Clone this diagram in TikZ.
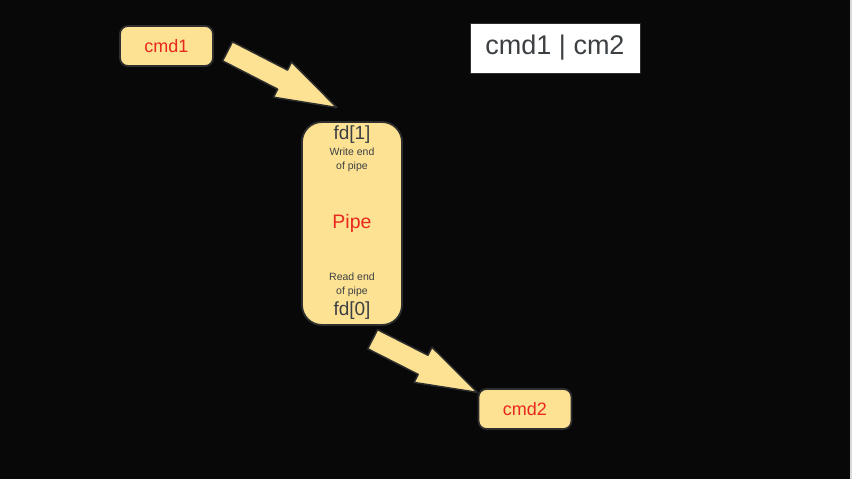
\documentclass[tikz,border=0pt]{standalone}
\usepackage{fontspec}
\setmainfont{Liberation Sans}
\usetikzlibrary{positioning,calc,shapes.arrows}
\definecolor{bgblack}{HTML}{080808}
\definecolor{boxyellow}{HTML}{FDE293}
\definecolor{boxedge}{HTML}{2E2E2E}
\definecolor{cmdred}{HTML}{E8281E}
\definecolor{darktext}{HTML}{3C4043}
\definecolor{rimgray}{HTML}{D9D9D9}
\newcommand{\blockarrow}[2]{%
  \path let \p1=($(#2)-(#1)$), \n1={atan2(\y1,\x1)}, \n2={veclen(\x1,\y1)} in
    node[bigarrow, minimum height=\n2, rotate=\n1, anchor=tail] at (#1) {};}
\begin{document}
\begin{tikzpicture}[x=1pt,y=-1pt,line join=round,line cap=round]
	\tikzset{
		cmdbox/.style={draw=boxedge,fill=boxyellow,line width=1.8pt,rounded corners=8pt,
			minimum width=93pt,minimum height=40pt,inner sep=0pt,text=cmdred,
			font=\fontsize{18}{20}\selectfont},
		pipebox/.style={draw=boxedge,fill=boxyellow,line width=1.8pt,rounded corners=20pt,
			minimum width=100pt,minimum height=203pt,inner sep=0pt},
		fdtext/.style={text=darktext,inner sep=0pt,font=\fontsize{19}{21}\selectfont},
		endtext/.style={text=darktext,inner sep=0pt,align=center,font=\fontsize{10.5}{14}\selectfont},
		pipetext/.style={text=cmdred,inner sep=0pt,font=\fontsize{19.5}{21}\selectfont},
		cmdline/.style={fill=white,draw=boxedge,line width=1pt,minimum width=170pt,minimum height=50pt,
			inner sep=0pt,text=darktext,font=\fontsize{27}{29}\selectfont},
		bigarrow/.style={single arrow,draw=boxedge,fill=boxyellow,line width=1.5pt,inner xsep=0pt,
			inner ysep=10pt,single arrow head extend=9pt,single arrow tip angle=36,single arrow head indent=0pt}
	}
	\fill[bgblack] (0,0) rectangle (852,479);
	\fill[rimgray] (850,0) rectangle (852,479);
	\node[cmdbox] (cmd1) at (166.5,46) {cmd1};
	\node[pipebox] (pipe) at (352,223.5) {};
	\node[cmdbox] (cmd2) at (525,409) {cmd2};
	\node[cmdline] (line) at (555,48) {cmd1 | cm2};
	\node[fdtext] (fdw) at ($(pipe.north)+(0,13)$) {fd[1]};
	\node[endtext] (wend) at ($(pipe.north)+(0,39)$) {Write end\\of pipe};
	\node[pipetext] (ptext) at (pipe.center) {Pipe};
	\node[endtext] (rend) at ($(pipe.south)+(0,-41)$) {Read end\\of pipe};
	\node[fdtext] (fdr) at ($(pipe.south)+(0,-15)$) {fd[0]};
	\coordinate (tail1) at ($(cmd1.east)+(13,5)$);
	\coordinate (tip1) at ($(pipe.north)+(-16,-14)$);
	\coordinate (tail2) at ($(pipe.south)+(20,13)$);
	\coordinate (tip2) at ($(cmd2.west)+(-1,-17)$);
	\blockarrow{tail1}{tip1}
	\blockarrow{tail2}{tip2}
\end{tikzpicture}
\end{document}
